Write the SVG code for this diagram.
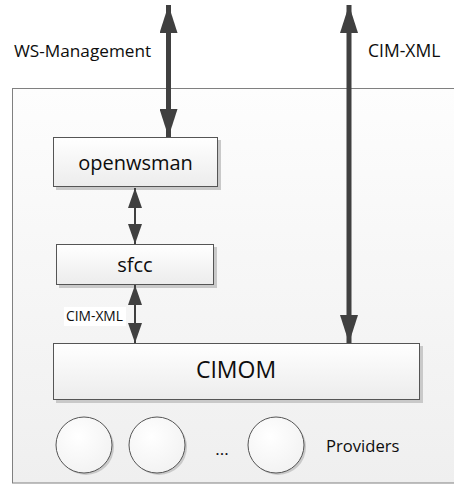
<svg xmlns="http://www.w3.org/2000/svg" width="454" height="485" viewBox="0 0 454 485">
  <defs>
    <linearGradient id="panelFill" x1="0" y1="0" x2="0" y2="1">
      <stop offset="0" stop-color="#fdfdfd"/>
      <stop offset="1" stop-color="#efefef"/>
    </linearGradient>
    <linearGradient id="boxFill" x1="0" y1="0" x2="0" y2="1">
      <stop offset="0" stop-color="#ffffff"/>
      <stop offset="1" stop-color="#ececec"/>
    </linearGradient>
    <radialGradient id="circleFill" cx="0.4" cy="0.35" r="0.7">
      <stop offset="0" stop-color="#ffffff"/>
      <stop offset="1" stop-color="#f2f2f2"/>
    </radialGradient>
    <marker id="bigHead" viewBox="0 0 28 18" refX="28" refY="9" markerUnits="userSpaceOnUse" markerWidth="28" markerHeight="18" orient="auto-start-reverse">
      <path d="M0,0 L28,9 L0,18 Z" fill="#404040"/>
    </marker>
    <marker id="smallHead" viewBox="0 0 20 14" refX="20" refY="7" markerUnits="userSpaceOnUse" markerWidth="20" markerHeight="14" orient="auto-start-reverse">
      <path d="M0,0 L20,7 L0,14 Z" fill="#404040"/>
    </marker>
  </defs>
  <style>
    text { font-family: "Open Sans", "Liberation Sans", sans-serif; fill: #0d0d0d; }
    .box { fill: url(#boxFill); stroke: #555; stroke-width: 1; }
    .shadow { fill: #c9c9c9; }
    .circ { fill: url(#circleFill); stroke: #555; stroke-width: 1; }
    .big { stroke: #404040; stroke-width: 5; fill: none; }
    .small { stroke: #404040; stroke-width: 2; fill: none; }
  </style>

  <!-- host panel -->
  <rect x="12.5" y="88.5" width="460" height="394.5" fill="url(#panelFill)" stroke="#808080" stroke-width="1"/>

  <!-- protocol labels -->
  <text x="14" y="57" font-size="17.2">WS-Management</text>
  <text x="368" y="57" font-size="17.5">CIM-XML</text>

  <g id="openwsman">
    <rect class="shadow" x="56" y="140" width="165" height="50"/>
    <rect class="box" x="53.5" y="137.5" width="164" height="49"/>
    <text x="135.5" y="170" font-size="20" text-anchor="middle">openwsman</text>
  </g>

  <g id="sfcc">
    <rect class="shadow" x="59" y="247" width="158" height="41"/>
    <rect class="box" x="56.5" y="244.5" width="157" height="40"/>
    <text x="135" y="272" font-size="20" text-anchor="middle">sfcc</text>
  </g>

  <g id="cimom">
    <rect class="shadow" x="56" y="346" width="367" height="57"/>
    <rect class="box" x="53.5" y="343.5" width="366" height="56"/>
    <text x="236" y="378" font-size="23" text-anchor="middle">CIMOM</text>
  </g>

  <g id="providers">
    <circle class="shadow" cx="86" cy="447" r="28"/>
    <circle class="circ" cx="84" cy="445" r="28"/>
    <circle class="shadow" cx="159" cy="447" r="28"/>
    <circle class="circ" cx="157" cy="445" r="28"/>
    <circle class="shadow" cx="278" cy="447" r="28"/>
    <circle class="circ" cx="276" cy="445" r="28"/>
    <text x="222" y="455" font-size="17" text-anchor="middle">...</text>
    <text x="326" y="452" font-size="16.6">Providers</text>
  </g>

  <g id="connectors">
    <!-- WS-Management to openwsman -->
    <line class="big" x1="168.5" y1="5" x2="168.5" y2="137" marker-start="url(#bigHead)" marker-end="url(#bigHead)"/>
    <!-- CIM-XML to CIMOM -->
    <line class="big" x1="349" y1="5" x2="349" y2="343" marker-start="url(#bigHead)" marker-end="url(#bigHead)"/>
    <!-- openwsman to sfcc -->
    <line class="small" x1="135" y1="188" x2="135" y2="244" marker-start="url(#smallHead)" marker-end="url(#smallHead)"/>
    <!-- sfcc to CIMOM -->
    <line class="small" x1="135" y1="285" x2="135" y2="343" marker-start="url(#smallHead)" marker-end="url(#smallHead)"/>
    <rect x="64" y="307" width="62" height="19" fill="#ffffff"/>
    <text x="66" y="321" font-size="13.8">CIM-XML</text>
  </g>
</svg>
